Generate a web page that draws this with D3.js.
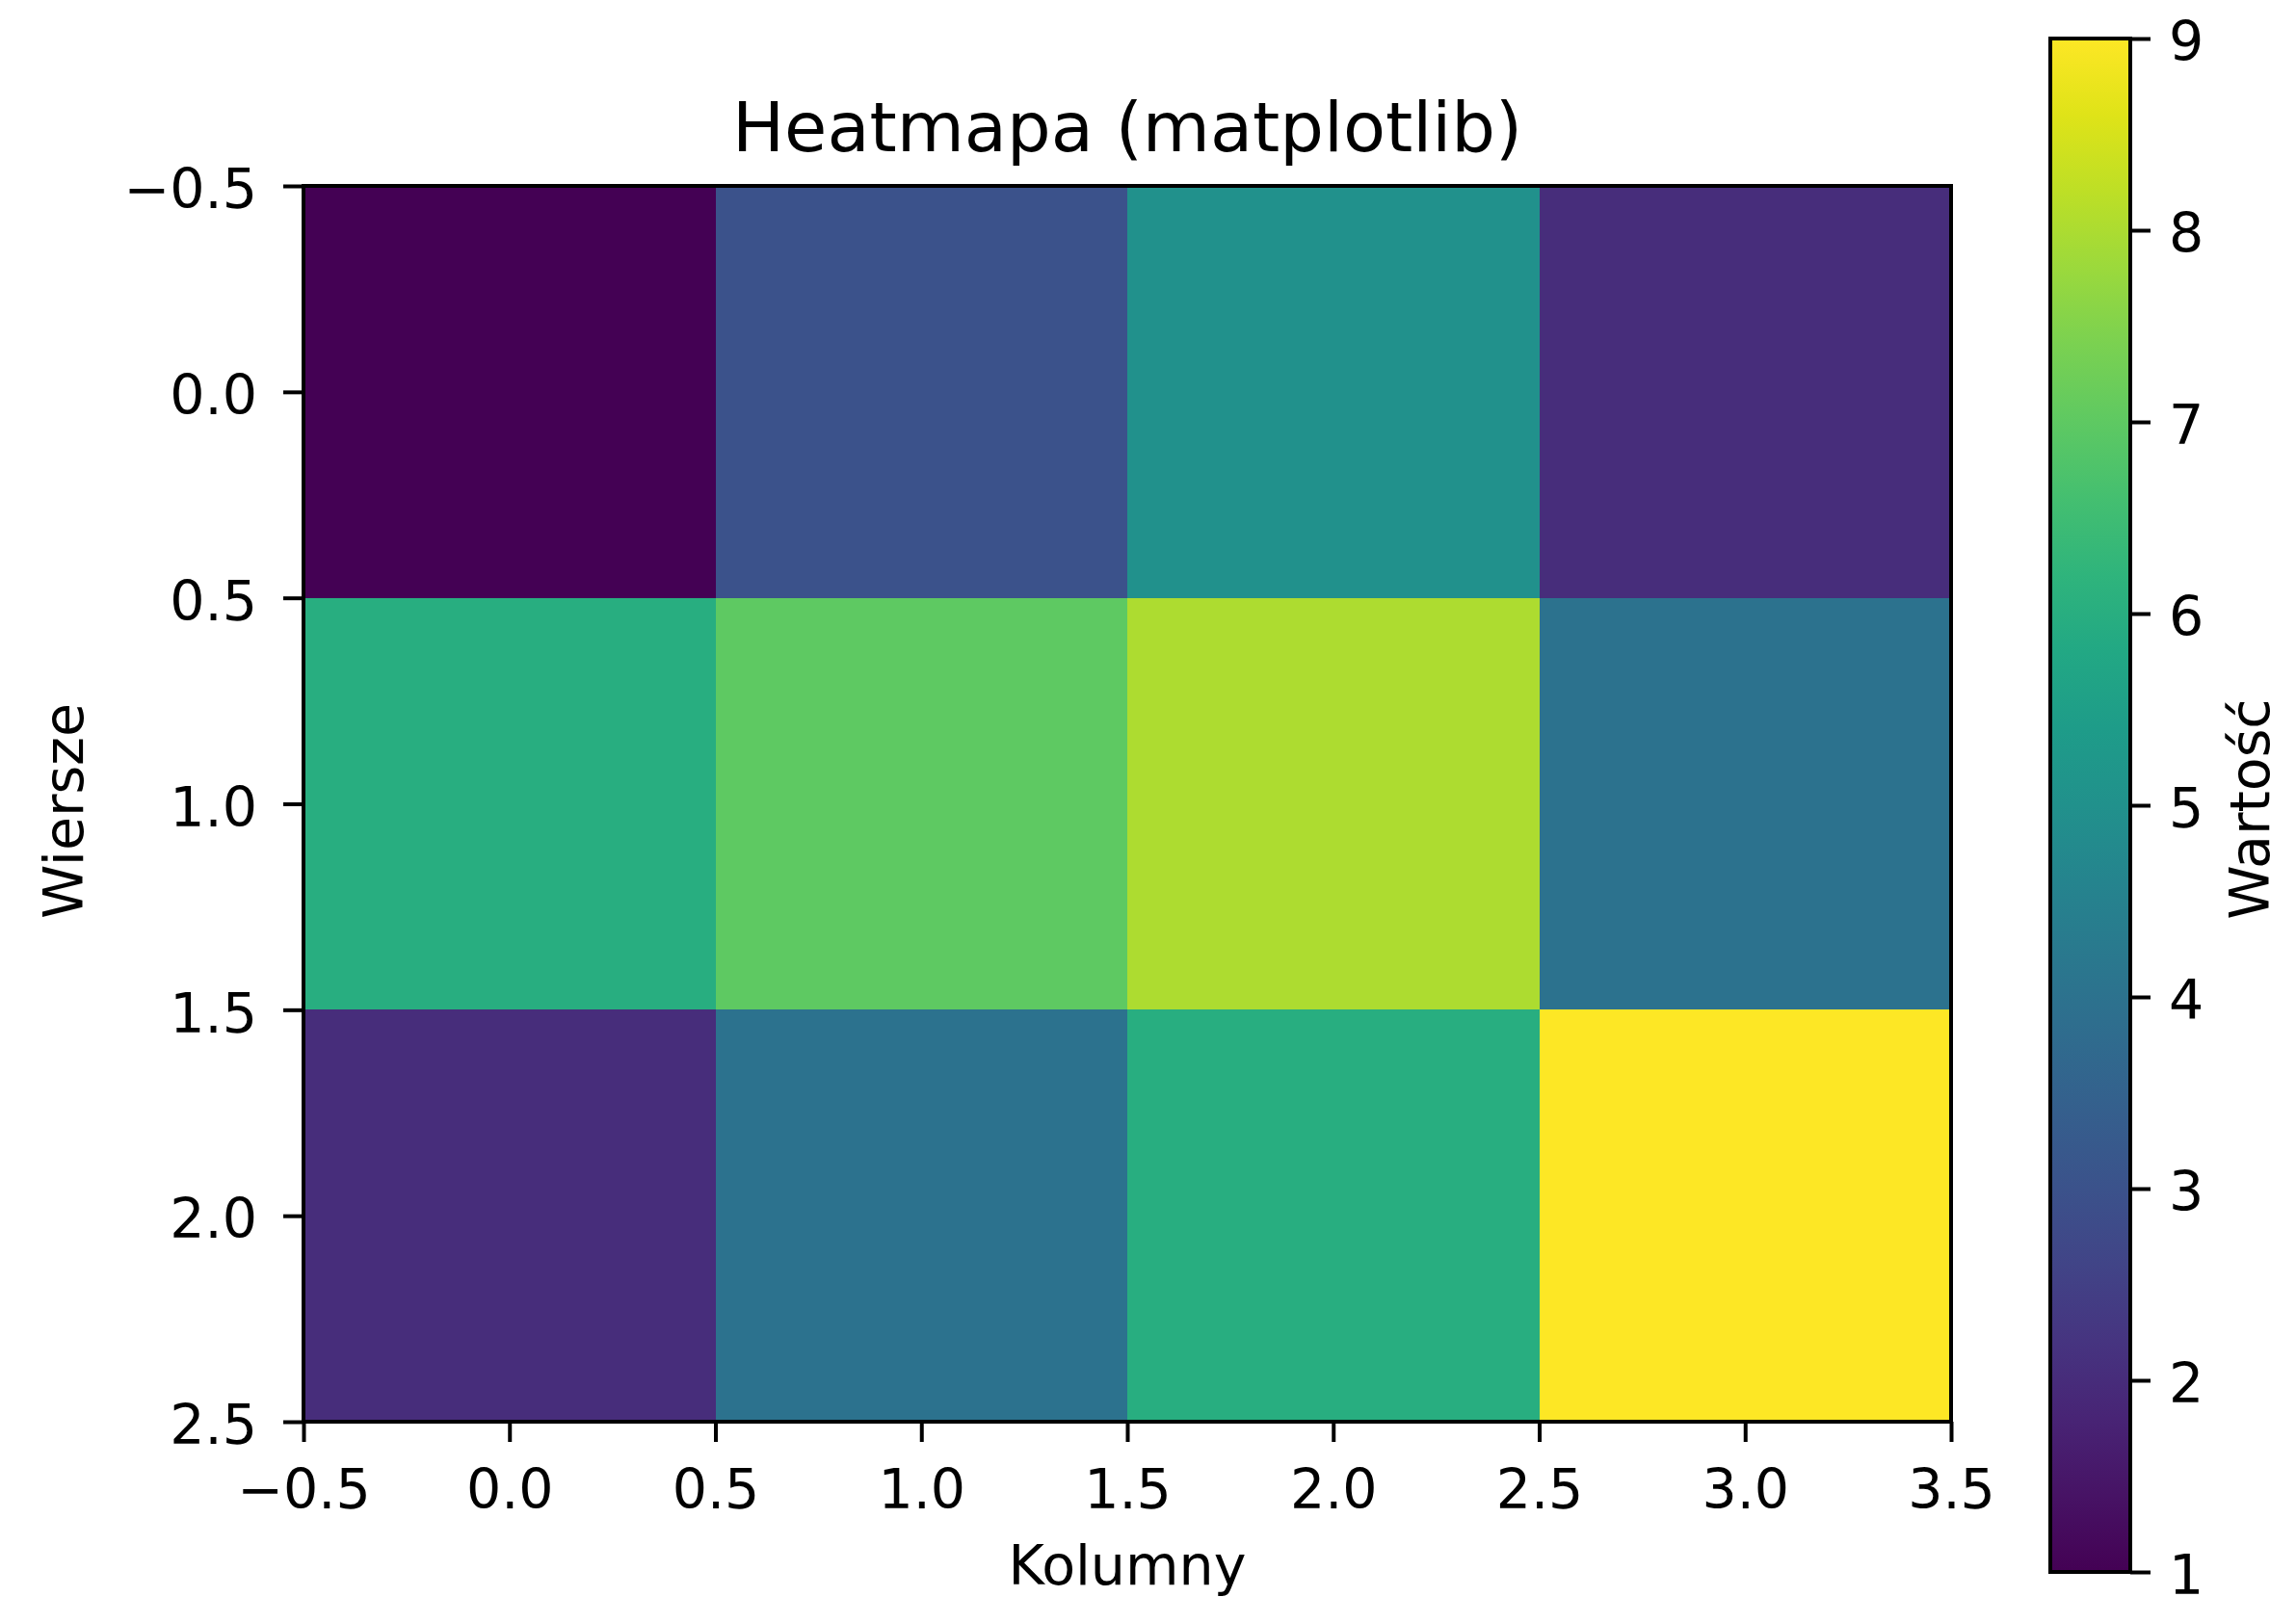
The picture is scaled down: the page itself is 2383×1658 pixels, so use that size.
<!DOCTYPE html>
<html>
<head>
<meta charset="utf-8">
<script src="https://cdn.jsdelivr.net/npm/d3@7"></script>
<style>
  html, body { margin: 0; padding: 0; background: #fff; }
  svg { display: block; }
  text { font-family: "DejaVu Sans", sans-serif; fill: #000; }
</style>
</head>
<body>
<script>
// Heatmap cell values, row by row
const rowIndex = [0, 1, 2];
const colIndex = [0, 1, 2, 3];
const row0 = [1, 3, 5, 2];
const row1 = [6, 7, 8, 4];
const row2 = [2, 4, 6, 9];
const xTicks = [-0.5, 0.0, 0.5, 1.0, 1.5, 2.0, 2.5, 3.0, 3.5];
const yTicks = [-0.5, 0.0, 0.5, 1.0, 1.5, 2.0, 2.5];
const cbTicks = [1, 2, 3, 4, 5, 6, 7, 8, 9];
const titleText = "Heatmapa (matplotlib)";
const xLabel = "Kolumny";
const yLabel = "Wiersze";
const cbLabel = "Wartość";

const W = 2383, H = 1658;
const rows = [row0, row1, row2];
const cells = [];
rowIndex.forEach(r => colIndex.forEach(c => cells.push({ r, c, v: rows[r][c] })));

const svg = d3.select("body").append("svg").attr("width", W).attr("height", H);

const plot = { left: 315, top: 193, right: 2025, bottom: 1476 };
const x = d3.scaleLinear().domain([-0.5, 3.5]).range([plot.left, plot.right]);
const y = d3.scaleLinear().domain([-0.5, 2.5]).range([plot.top, plot.bottom]);
const color = d3.scaleSequential(d3.interpolateViridis).domain([1, 9]);

const fmt = d => (d < 0 ? "\u2212" : "") + Math.abs(d).toFixed(1);
const tickSize = 21, lw = 4, fontSize = 57;

// cells
svg.append("g").selectAll("rect").data(cells).join("rect")
  .attr("x", d => x(d.c - 0.5))
  .attr("y", d => y(d.r - 0.5))
  .attr("width", d => x(d.c + 0.5) - x(d.c - 0.5) + 0.5)
  .attr("height", d => y(d.r + 0.5) - y(d.r - 0.5) + 0.5)
  .attr("fill", d => color(d.v))
  .attr("shape-rendering", "crispEdges");

// axes
const xAxis = d3.axisBottom(x).tickValues(xTicks).tickFormat(fmt).tickSize(tickSize);
const yAxis = d3.axisLeft(y).tickValues(yTicks).tickFormat(fmt).tickSize(tickSize);

const gx = svg.append("g").attr("transform", `translate(0,${plot.bottom})`).call(xAxis);
const gy = svg.append("g").attr("transform", `translate(${plot.left},0)`).call(yAxis);
[gx, gy].forEach(g => {
  g.select(".domain").remove();
  g.selectAll("line").attr("stroke", "#000").attr("stroke-width", lw);
  g.selectAll("text").attr("font-size", fontSize).attr("font-family", "DejaVu Sans").attr("fill", "#000");
});
gx.selectAll("text").attr("y", 90).attr("dy", 0);
gy.selectAll("text").attr("x", -48).attr("dy", "0.4em");

// plot frame
svg.append("rect")
  .attr("x", plot.left).attr("y", plot.top)
  .attr("width", plot.right - plot.left).attr("height", plot.bottom - plot.top)
  .attr("fill", "none").attr("stroke", "#000").attr("stroke-width", lw);

// title and axis labels
svg.append("text").attr("x", (plot.left + plot.right) / 2).attr("y", 157)
  .attr("text-anchor", "middle").attr("font-size", 72).text(titleText);
svg.append("text").attr("x", (plot.left + plot.right) / 2).attr("y", 1645)
  .attr("text-anchor", "middle").attr("font-size", fontSize).text(xLabel);
svg.append("text").attr("transform", `translate(86,842) rotate(-90)`)
  .attr("text-anchor", "middle").attr("font-size", fontSize).text(yLabel);

// colorbar
const cb = { left: 2128, right: 2211, top: 40, bottom: 1632 };
const cy = d3.scaleLinear().domain([1, 9]).range([cb.bottom, cb.top]);
const defs = svg.append("defs");
const grad = defs.append("linearGradient").attr("id", "cbgrad")
  .attr("x1", 0).attr("y1", 1).attr("x2", 0).attr("y2", 0);
d3.range(0, 1.0001, 0.05).forEach(t => {
  grad.append("stop").attr("offset", t).attr("stop-color", d3.interpolateViridis(t));
});
svg.append("rect")
  .attr("x", cb.left).attr("y", cb.top)
  .attr("width", cb.right - cb.left).attr("height", cb.bottom - cb.top)
  .attr("fill", "url(#cbgrad)");
const cbAxis = d3.axisRight(cy).tickValues(cbTicks).tickFormat(d3.format("d")).tickSize(tickSize);
const gc = svg.append("g").attr("transform", `translate(${cb.right},0)`).call(cbAxis);
gc.select(".domain").remove();
gc.selectAll("line").attr("stroke", "#000").attr("stroke-width", lw);
gc.selectAll("text").attr("font-size", fontSize).attr("font-family", "DejaVu Sans").attr("fill", "#000")
  .attr("x", 40).attr("dy", "0.4em");
svg.append("rect")
  .attr("x", cb.left).attr("y", cb.top)
  .attr("width", cb.right - cb.left).attr("height", cb.bottom - cb.top)
  .attr("fill", "none").attr("stroke", "#000").attr("stroke-width", lw);
svg.append("text").attr("transform", `translate(2355,840) rotate(-90)`)
  .attr("text-anchor", "middle").attr("font-size", fontSize).text(cbLabel);
</script>
</body>
</html>
